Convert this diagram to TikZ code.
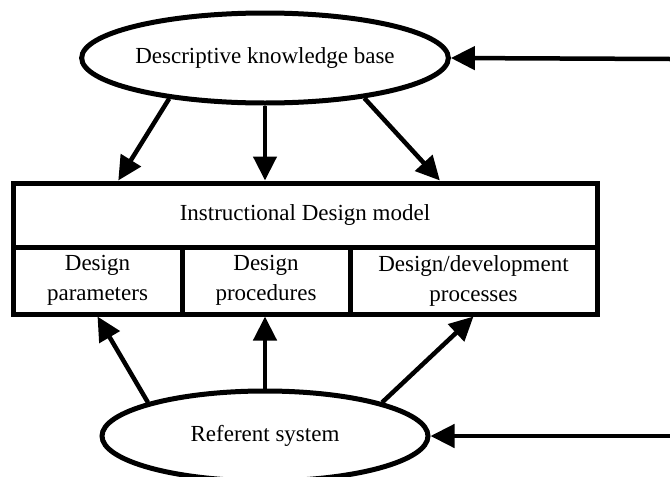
\documentclass[tikz,border=0pt]{standalone}
\usepackage{fontspec}
\setmainfont{Liberation Serif}
\usetikzlibrary{arrows.meta, shapes.geometric, calc}

\begin{document}
\begin{tikzpicture}[x=1pt, y=-1pt,
  oval/.style={draw, ellipse, line width=5pt, minimum width=326pt,
               minimum height=90pt, inner sep=0pt,
               font=\fontsize{23}{27}\selectfont},
  cell/.style={draw, line width=5pt, inner sep=0pt, align=center,
               font=\fontsize{23}{30}\selectfont},
  arrow/.style={-{Triangle[length=24pt, width=23pt]}, line width=4.5pt}
]
\useasboundingbox (0,0) rectangle (670,477);

\node[oval] (kb) at (265,58) {Descriptive knowledge base};
\node[oval] (ref) at (265,436) {Referent system};

\node[cell, minimum width=584pt, minimum height=64pt] (idm) at (305,215)
  {Instructional Design model};
\node[cell, minimum width=169pt, minimum height=67pt] (par) at (97.5,280.5)
  {Design\\parameters};
\node[cell, minimum width=168pt, minimum height=67pt] (proc) at (266,280.5)
  {Design\\procedures};
\node[cell, minimum width=247pt, minimum height=67pt] (dev) at (473.5,280.5)
  {Design/development\\processes};

\coordinate (kbin) at (670,59);
\coordinate (refin) at (670,436);

\draw[arrow] (kb.203) -- ($(idm.north west)!0.183!(idm.north east)$);
\draw[arrow] (kb.south) -- (kb.south |- idm.north);
\draw[arrow] (kb.338) -- ($(idm.north west)!0.729!(idm.north east)$);

\draw[arrow] (ref.164) -- (par.south);
\draw[arrow] (ref.north) -- (ref.north |- proc.south);
\draw[arrow] (ref.16) -- (dev.south);

\draw[arrow] (kbin) -- (kb.east);
\draw[arrow] (refin) -- (ref.east);

\end{tikzpicture}
\end{document}
